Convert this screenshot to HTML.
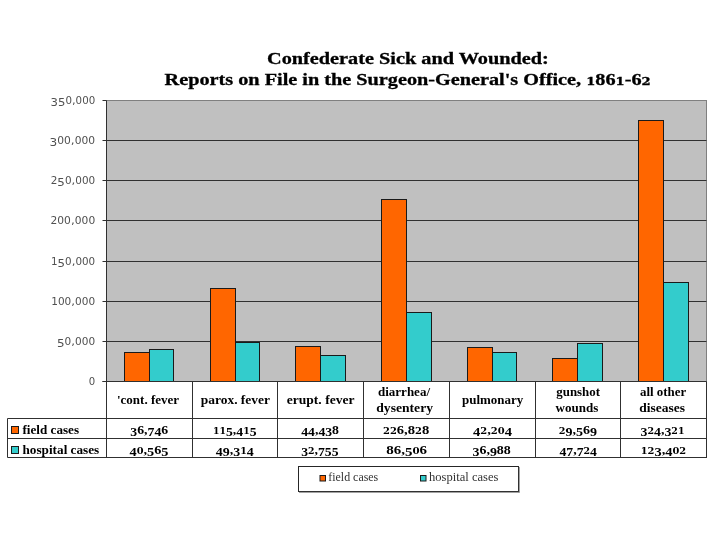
<!DOCTYPE html>
<html><head><meta charset="utf-8"><title>Confederate Sick and Wounded</title>
<style>
html,body{margin:0;padding:0;background:#fff;}
body{width:720px;height:540px;overflow:hidden;}
svg{display:block;}
text{white-space:pre;}
.t{font-family:"Liberation Serif",serif;font-weight:bold;font-size:16.8px;fill:#000;stroke:#000;stroke-width:0.3px;}
.y{font-family:"DejaVu Sans","Liberation Sans",sans-serif;font-size:11px;fill:#505050;}
.w{font-family:"DejaVu Serif","Liberation Serif",serif;font-weight:bold;}
.c{font-family:"Liberation Serif",serif;font-weight:bold;font-size:11.6px;fill:#000;}
.d{font-family:"Liberation Serif",serif;font-weight:bold;font-size:12.6px;fill:#000;}
.l{font-family:"Liberation Serif",serif;font-size:11.8px;fill:#333;}
</style></head><body>
<svg width="720" height="540" viewBox="0 0 720 540">
<rect x="0" y="0" width="720" height="540" fill="#ffffff"/>
<text class="t" x="267" y="63.6" textLength="281.75" lengthAdjust="spacingAndGlyphs">Confederate Sick and Wounded:</text>
<text class="t" x="164.6" y="85.2" textLength="486.15" lengthAdjust="spacingAndGlyphs">Reports on File in the Surgeon-General's Office, <tspan class="w" font-size="10.9">1</tspan><tspan font-size="16.8">8</tspan><tspan font-size="16.8">6</tspan><tspan class="w" font-size="10.9">1</tspan><tspan font-size="16.8">-</tspan><tspan font-size="16.8">6</tspan><tspan class="w" font-size="10.9">2</tspan></text>
<rect x="106.5" y="100.5" width="600.0" height="281.0" fill="#c0c0c0" stroke="#808080" stroke-width="1"/>
<line x1="102.5" y1="381.5" x2="106.5" y2="381.5" stroke="#303030" stroke-width="1"/>
<text class="y" x="88.75" y="384.9" textLength="6.45" lengthAdjust="spacingAndGlyphs"><tspan font-size="9.7">0</tspan></text>
<line x1="106.5" y1="341.5" x2="706.5" y2="341.5" stroke="#303030" stroke-width="1"/>
<line x1="102.5" y1="341.5" x2="106.5" y2="341.5" stroke="#303030" stroke-width="1"/>
<text class="y" x="57" y="344.9" textLength="38.2" lengthAdjust="spacingAndGlyphs"><tspan font-size="11" dy="2.2">5</tspan><tspan font-size="9.7" dy="-2.2">0</tspan><tspan font-size="11">,</tspan><tspan font-size="9.7">0</tspan><tspan font-size="9.7">0</tspan><tspan font-size="9.7">0</tspan></text>
<line x1="106.5" y1="301.5" x2="706.5" y2="301.5" stroke="#303030" stroke-width="1"/>
<line x1="102.5" y1="301.5" x2="106.5" y2="301.5" stroke="#303030" stroke-width="1"/>
<text class="y" x="51.25" y="304.9" textLength="43.95" lengthAdjust="spacingAndGlyphs"><tspan font-size="9.7">1</tspan><tspan font-size="9.7">0</tspan><tspan font-size="9.7">0</tspan><tspan font-size="11">,</tspan><tspan font-size="9.7">0</tspan><tspan font-size="9.7">0</tspan><tspan font-size="9.7">0</tspan></text>
<line x1="106.5" y1="261.5" x2="706.5" y2="261.5" stroke="#303030" stroke-width="1"/>
<line x1="102.5" y1="261.5" x2="106.5" y2="261.5" stroke="#303030" stroke-width="1"/>
<text class="y" x="51" y="264.9" textLength="44.2" lengthAdjust="spacingAndGlyphs"><tspan font-size="9.7">1</tspan><tspan font-size="11" dy="2.2">5</tspan><tspan font-size="9.7" dy="-2.2">0</tspan><tspan font-size="11">,</tspan><tspan font-size="9.7">0</tspan><tspan font-size="9.7">0</tspan><tspan font-size="9.7">0</tspan></text>
<line x1="106.5" y1="220.5" x2="706.5" y2="220.5" stroke="#303030" stroke-width="1"/>
<line x1="102.5" y1="220.5" x2="106.5" y2="220.5" stroke="#303030" stroke-width="1"/>
<text class="y" x="50.5" y="223.9" textLength="44.7" lengthAdjust="spacingAndGlyphs"><tspan font-size="9.7">2</tspan><tspan font-size="9.7">0</tspan><tspan font-size="9.7">0</tspan><tspan font-size="11">,</tspan><tspan font-size="9.7">0</tspan><tspan font-size="9.7">0</tspan><tspan font-size="9.7">0</tspan></text>
<line x1="106.5" y1="180.5" x2="706.5" y2="180.5" stroke="#303030" stroke-width="1"/>
<line x1="102.5" y1="180.5" x2="106.5" y2="180.5" stroke="#303030" stroke-width="1"/>
<text class="y" x="50.75" y="183.9" textLength="44.45" lengthAdjust="spacingAndGlyphs"><tspan font-size="9.7">2</tspan><tspan font-size="11" dy="2.2">5</tspan><tspan font-size="9.7" dy="-2.2">0</tspan><tspan font-size="11">,</tspan><tspan font-size="9.7">0</tspan><tspan font-size="9.7">0</tspan><tspan font-size="9.7">0</tspan></text>
<line x1="106.5" y1="140.5" x2="706.5" y2="140.5" stroke="#303030" stroke-width="1"/>
<line x1="102.5" y1="140.5" x2="106.5" y2="140.5" stroke="#303030" stroke-width="1"/>
<text class="y" x="49.5" y="143.9" textLength="45.7" lengthAdjust="spacingAndGlyphs"><tspan font-size="11" dy="2.2">3</tspan><tspan font-size="9.7" dy="-2.2">0</tspan><tspan font-size="9.7">0</tspan><tspan font-size="11">,</tspan><tspan font-size="9.7">0</tspan><tspan font-size="9.7">0</tspan><tspan font-size="9.7">0</tspan></text>
<line x1="102.5" y1="100.5" x2="106.5" y2="100.5" stroke="#303030" stroke-width="1"/>
<text class="y" x="50.6" y="103.9" textLength="44.6" lengthAdjust="spacingAndGlyphs"><tspan font-size="11" dy="2.2">3</tspan><tspan font-size="11">5</tspan><tspan font-size="9.7" dy="-2.2">0</tspan><tspan font-size="11">,</tspan><tspan font-size="9.7">0</tspan><tspan font-size="9.7">0</tspan><tspan font-size="9.7">0</tspan></text>
<rect x="124.5" y="352.5" width="25.0" height="29.0" fill="#ff6600" stroke="#1a1a1a" stroke-width="1"/>
<rect x="149.5" y="349.5" width="24.0" height="32.0" fill="#33cccc" stroke="#1a1a1a" stroke-width="1"/>
<rect x="210.5" y="288.5" width="25.0" height="93.0" fill="#ff6600" stroke="#1a1a1a" stroke-width="1"/>
<rect x="235.5" y="342.5" width="24.0" height="39.0" fill="#33cccc" stroke="#1a1a1a" stroke-width="1"/>
<rect x="295.5" y="346.5" width="25.0" height="35.0" fill="#ff6600" stroke="#1a1a1a" stroke-width="1"/>
<rect x="320.5" y="355.5" width="25.0" height="26.0" fill="#33cccc" stroke="#1a1a1a" stroke-width="1"/>
<rect x="381.5" y="199.5" width="25.0" height="182.0" fill="#ff6600" stroke="#1a1a1a" stroke-width="1"/>
<rect x="406.5" y="312.5" width="25.0" height="69.0" fill="#33cccc" stroke="#1a1a1a" stroke-width="1"/>
<rect x="467.5" y="347.5" width="25.0" height="34.0" fill="#ff6600" stroke="#1a1a1a" stroke-width="1"/>
<rect x="492.5" y="352.5" width="24.0" height="29.0" fill="#33cccc" stroke="#1a1a1a" stroke-width="1"/>
<rect x="552.5" y="358.5" width="25.0" height="23.0" fill="#ff6600" stroke="#1a1a1a" stroke-width="1"/>
<rect x="577.5" y="343.5" width="25.0" height="38.0" fill="#33cccc" stroke="#1a1a1a" stroke-width="1"/>
<rect x="638.5" y="120.5" width="25.0" height="261.0" fill="#ff6600" stroke="#1a1a1a" stroke-width="1"/>
<rect x="663.5" y="282.5" width="25.0" height="99.0" fill="#33cccc" stroke="#1a1a1a" stroke-width="1"/>
<line x1="106.5" y1="100.5" x2="106.5" y2="381.5" stroke="#303030" stroke-width="1"/>
<line x1="102.5" y1="381.5" x2="706.5" y2="381.5" stroke="#303030" stroke-width="1"/>
<line x1="106.5" y1="381.5" x2="106.5" y2="457.5" stroke="#303030" stroke-width="1"/>
<line x1="192.5" y1="381.5" x2="192.5" y2="457.5" stroke="#303030" stroke-width="1"/>
<line x1="277.5" y1="381.5" x2="277.5" y2="457.5" stroke="#303030" stroke-width="1"/>
<line x1="363.5" y1="381.5" x2="363.5" y2="457.5" stroke="#303030" stroke-width="1"/>
<line x1="449.5" y1="381.5" x2="449.5" y2="457.5" stroke="#303030" stroke-width="1"/>
<line x1="535.5" y1="381.5" x2="535.5" y2="457.5" stroke="#303030" stroke-width="1"/>
<line x1="620.5" y1="381.5" x2="620.5" y2="457.5" stroke="#303030" stroke-width="1"/>
<line x1="706.5" y1="381.5" x2="706.5" y2="457.5" stroke="#303030" stroke-width="1"/>
<line x1="7.5" y1="418.5" x2="707.0" y2="418.5" stroke="#303030" stroke-width="1"/>
<line x1="7.5" y1="438.5" x2="707.0" y2="438.5" stroke="#303030" stroke-width="1"/>
<line x1="7.5" y1="457.5" x2="707.0" y2="457.5" stroke="#303030" stroke-width="1"/>
<line x1="7.5" y1="418.5" x2="7.5" y2="457.5" stroke="#303030" stroke-width="1"/>
<text class="c" x="117" y="403.75" textLength="62" lengthAdjust="spacingAndGlyphs">'cont. fever</text>
<text class="d" x="130.25" y="433.75" textLength="38" lengthAdjust="spacingAndGlyphs"><tspan font-size="12.6" dy="2.2">3</tspan><tspan font-size="12.6" dy="-2.2">6</tspan><tspan font-size="12.6">,</tspan><tspan font-size="12.6" dy="2.2">7</tspan><tspan font-size="12.6">4</tspan><tspan font-size="12.6" dy="-2.2">6</tspan></text>
<text class="d" x="129.5" y="453.5" textLength="39" lengthAdjust="spacingAndGlyphs"><tspan font-size="12.6" dy="2.2">4</tspan><tspan class="w" font-size="8.6" dy="-2.2">0</tspan><tspan font-size="12.6">,</tspan><tspan font-size="12.6" dy="2.2">5</tspan><tspan font-size="12.6" dy="-2.2">6</tspan><tspan font-size="12.6" dy="2.2">5</tspan></text>
<text class="c" x="200.75" y="403.75" textLength="69.25" lengthAdjust="spacingAndGlyphs">parox. fever</text>
<text class="d" x="213" y="433.75" textLength="43.5" lengthAdjust="spacingAndGlyphs"><tspan class="w" font-size="8.6">1</tspan><tspan class="w" font-size="8.6">1</tspan><tspan font-size="12.6" dy="2.2">5</tspan><tspan font-size="12.6" dy="-2.2">,</tspan><tspan font-size="12.6" dy="2.2">4</tspan><tspan class="w" font-size="8.6" dy="-2.2">1</tspan><tspan font-size="12.6" dy="2.2">5</tspan></text>
<text class="d" x="215.75" y="453.5" textLength="38" lengthAdjust="spacingAndGlyphs"><tspan font-size="12.6" dy="2.2">4</tspan><tspan font-size="12.6">9</tspan><tspan font-size="12.6" dy="-2.2">,</tspan><tspan font-size="12.6" dy="2.2">3</tspan><tspan class="w" font-size="8.6" dy="-2.2">1</tspan><tspan font-size="12.6" dy="2.2">4</tspan></text>
<text class="c" x="286.75" y="403.75" textLength="67.75" lengthAdjust="spacingAndGlyphs">erupt. fever</text>
<text class="d" x="301.25" y="433.75" textLength="37.75" lengthAdjust="spacingAndGlyphs"><tspan font-size="12.6" dy="2.2">4</tspan><tspan font-size="12.6">4</tspan><tspan font-size="12.6" dy="-2.2">,</tspan><tspan font-size="12.6" dy="2.2">4</tspan><tspan font-size="12.6">3</tspan><tspan font-size="12.6" dy="-2.2">8</tspan></text>
<text class="d" x="301.25" y="453.5" textLength="37.25" lengthAdjust="spacingAndGlyphs"><tspan font-size="12.6" dy="2.2">3</tspan><tspan class="w" font-size="8.6" dy="-2.2">2</tspan><tspan font-size="12.6">,</tspan><tspan font-size="12.6" dy="2.2">7</tspan><tspan font-size="12.6">5</tspan><tspan font-size="12.6">5</tspan></text>
<text class="c" x="378" y="396.25" textLength="52" lengthAdjust="spacingAndGlyphs">diarrhea/</text>
<text class="c" x="376.25" y="412.25" textLength="56.75" lengthAdjust="spacingAndGlyphs">dysentery</text>
<text class="d" x="383" y="433.75" textLength="46.25" lengthAdjust="spacingAndGlyphs"><tspan class="w" font-size="8.6">2</tspan><tspan class="w" font-size="8.6">2</tspan><tspan font-size="12.6">6</tspan><tspan font-size="12.6">,</tspan><tspan font-size="12.6">8</tspan><tspan class="w" font-size="8.6">2</tspan><tspan font-size="12.6">8</tspan></text>
<text class="d" x="386.25" y="453.5" textLength="40.75" lengthAdjust="spacingAndGlyphs"><tspan font-size="12.6">8</tspan><tspan font-size="12.6">6</tspan><tspan font-size="12.6">,</tspan><tspan font-size="12.6" dy="2.2">5</tspan><tspan class="w" font-size="8.6" dy="-2.2">0</tspan><tspan font-size="12.6">6</tspan></text>
<text class="c" x="462" y="403.75" textLength="61.25" lengthAdjust="spacingAndGlyphs">pulmonary</text>
<text class="d" x="473" y="433.75" textLength="39" lengthAdjust="spacingAndGlyphs"><tspan font-size="12.6" dy="2.2">4</tspan><tspan class="w" font-size="8.6" dy="-2.2">2</tspan><tspan font-size="12.6">,</tspan><tspan class="w" font-size="8.6">2</tspan><tspan class="w" font-size="8.6">0</tspan><tspan font-size="12.6" dy="2.2">4</tspan></text>
<text class="d" x="472.5" y="453.5" textLength="38.25" lengthAdjust="spacingAndGlyphs"><tspan font-size="12.6" dy="2.2">3</tspan><tspan font-size="12.6" dy="-2.2">6</tspan><tspan font-size="12.6">,</tspan><tspan font-size="12.6" dy="2.2">9</tspan><tspan font-size="12.6" dy="-2.2">8</tspan><tspan font-size="12.6">8</tspan></text>
<text class="c" x="556.25" y="396.25" textLength="43.75" lengthAdjust="spacingAndGlyphs">gunshot</text>
<text class="c" x="555.5" y="412.25" textLength="42.75" lengthAdjust="spacingAndGlyphs">wounds</text>
<text class="d" x="558.75" y="433.75" textLength="38.25" lengthAdjust="spacingAndGlyphs"><tspan class="w" font-size="8.6">2</tspan><tspan font-size="12.6" dy="2.2">9</tspan><tspan font-size="12.6" dy="-2.2">,</tspan><tspan font-size="12.6" dy="2.2">5</tspan><tspan font-size="12.6" dy="-2.2">6</tspan><tspan font-size="12.6" dy="2.2">9</tspan></text>
<text class="d" x="559.5" y="453.5" textLength="37.5" lengthAdjust="spacingAndGlyphs"><tspan font-size="12.6" dy="2.2">4</tspan><tspan font-size="12.6">7</tspan><tspan font-size="12.6" dy="-2.2">,</tspan><tspan font-size="12.6" dy="2.2">7</tspan><tspan class="w" font-size="8.6" dy="-2.2">2</tspan><tspan font-size="12.6" dy="2.2">4</tspan></text>
<text class="c" x="640" y="396.25" textLength="46.25" lengthAdjust="spacingAndGlyphs">all other</text>
<text class="c" x="639.25" y="412.25" textLength="45.75" lengthAdjust="spacingAndGlyphs">diseases</text>
<text class="d" x="640.5" y="433.75" textLength="44" lengthAdjust="spacingAndGlyphs"><tspan font-size="12.6" dy="2.2">3</tspan><tspan class="w" font-size="8.6" dy="-2.2">2</tspan><tspan font-size="12.6" dy="2.2">4</tspan><tspan font-size="12.6" dy="-2.2">,</tspan><tspan font-size="12.6" dy="2.2">3</tspan><tspan class="w" font-size="8.6" dy="-2.2">2</tspan><tspan class="w" font-size="8.6">1</tspan></text>
<text class="d" x="640.75" y="453.5" textLength="45.5" lengthAdjust="spacingAndGlyphs"><tspan class="w" font-size="8.6">1</tspan><tspan class="w" font-size="8.6">2</tspan><tspan font-size="12.6" dy="2.2">3</tspan><tspan font-size="12.6" dy="-2.2">,</tspan><tspan font-size="12.6" dy="2.2">4</tspan><tspan class="w" font-size="8.6" dy="-2.2">0</tspan><tspan class="w" font-size="8.6">2</tspan></text>
<rect x="11.5" y="426.5" width="7" height="7" fill="#ff6600" stroke="#1a1a1a" stroke-width="1"/>
<rect x="11.5" y="446.5" width="7" height="7" fill="#33cccc" stroke="#1a1a1a" stroke-width="1"/>
<text class="c" x="22.5" y="434" textLength="56.5" lengthAdjust="spacingAndGlyphs">field cases</text>
<text class="c" x="22.5" y="453.5" textLength="76.75" lengthAdjust="spacingAndGlyphs">hospital cases</text>
<rect x="298.5" y="466.5" width="220" height="25" fill="#fff" stroke="#262626" stroke-width="1"/>
<line x1="299" y1="492.2" x2="519.5" y2="492.2" stroke="#555" stroke-width="0.8"/>
<line x1="519.2" y1="467" x2="519.2" y2="492.5" stroke="#555" stroke-width="0.8"/>
<rect x="320" y="475.5" width="5.5" height="5.5" fill="#ff6600" stroke="#1a1a1a" stroke-width="1"/>
<rect x="420.5" y="475.5" width="5.5" height="5.5" fill="#33cccc" stroke="#1a1a1a" stroke-width="1"/>
<text class="l" x="328.3" y="481.2" textLength="49.95" lengthAdjust="spacingAndGlyphs">field cases</text>
<text class="l" x="429" y="481.2" textLength="69.5" lengthAdjust="spacingAndGlyphs">hospital cases</text>
</svg>
</body></html>
